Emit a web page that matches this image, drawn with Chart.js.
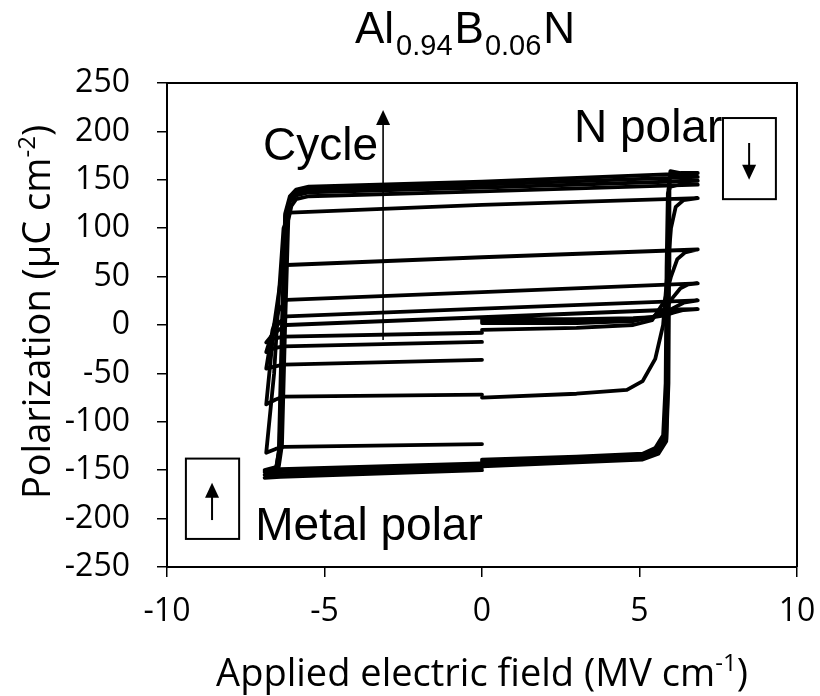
<!DOCTYPE html>
<html lang="en">
<head>
    <meta charset="UTF-8">
    <title>Al0.94B0.06N polarization loops</title>
    <script src="https://cdn.jsdelivr.net/npm/chart.js"></script>
    <style>
        body { margin: 0; background: #fff; }
    </style>
</head>
<body>

    <canvas id="loopChart" width="820" height="696"></canvas>

    <script>
        // axis ticks
        const xTicks = [-10, -5, 0, 5, 10];
        const yTicks = [-250, -200, -150, -100, -50, 0, 50, 100, 150, 200, 250];

        // P-E loops, [field MV/cm, polarization uC/cm2]
        // each one: 0 -> +max -> -max -> 0
        const cycle1 = [[0,6],[3,6],[4.8,7],[5.4,8],[5.8,10],[6.1,13],[6.4,15.5],[6.85,16.5],[6.2,16],[0,8],[-6.2,0],[-6.45,-5],[-6.7,-12],[-6.85,-18],[-6.6,-14],[-6.3,-12],[0,-8]];
        const cycle2 = [[0,4],[3,4],[4.8,6],[5.4,8],[5.8,12],[6.1,18],[6.4,23],[6.85,25.5],[0,17],[-6.2,9],[-6.45,2],[-6.7,-12],[-6.85,-28],[-6.6,-24],[-6.3,-22],[0,-17.5]];
        const cycle3 = [[0,2],[3,2],[4.8,4],[5.4,8],[5.8,16],[6.05,28],[6.3,38],[6.55,42],[6.85,43],[0,34],[-6.2,26],[-6.45,15],[-6.65,-5],[-6.85,-45],[-6.6,-43],[-6.3,-41],[0,-36]];
        const cycle4 = [[0,-5],[3,-3],[4.8,0],[5.4,5],[5.8,25],[6.0,50],[6.2,68],[6.45,75],[6.85,78],[0,70],[-6.2,62],[-6.4,45],[-6.6,0],[-6.85,-82],[-6.55,-77],[-6.3,-74],[0,-72]];
        const cycle5 = [[0,-75],[3,-71],[4.6,-67],[5.1,-58],[5.5,-35],[5.75,0],[5.9,60],[6.0,100],[6.15,122],[6.4,129],[6.85,131],[0,124],[-6.1,116],[-6.3,100],[-6.45,30],[-6.6,-50],[-6.85,-132],[-6.55,-128],[-6.3,-126],[0,-123]];
        const cycle6 = [[0,-146],[3,-142],[5.1,-139],[5.6,-133],[5.85,-120],[5.92,-60],[5.94,60],[5.95,150],[5.98,159],[6.3,157],[6.85,157],[0,148],[-5.5,143],[-5.9,140],[-6.1,133],[-6.25,115],[-6.35,0],[-6.45,-130],[-6.55,-152],[-6.9,-158],[-6.4,-157],[0,-150]];
        const cycle7 = [[0,-143],[3,-140],[5.1,-137],[5.6,-131],[5.85,-118],[5.9,-60],[5.92,60],[5.93,145],[5.98,153],[6.3,153],[6.85,153],[0,145],[-5.5,140],[-5.9,137],[-6.1,130],[-6.25,112],[-6.33,0],[-6.43,-128],[-6.55,-150],[-6.9,-155],[-6.4,-154],[0,-147]];
        const cycle8 = [[0,-141],[3,-138],[5.1,-135],[5.55,-129],[5.8,-116],[5.87,-60],[5.9,60],[5.92,140],[5.98,148],[6.3,149],[6.85,149],[0,142],[-5.5,137],[-5.9,134],[-6.1,127],[-6.2,110],[-6.3,0],[-6.4,-126],[-6.5,-148],[-6.9,-152],[-6.4,-151],[0,-145]];
        const cycle9 = [[0,-139],[3,-136],[5.1,-133],[5.5,-127],[5.75,-114],[5.83,-60],[5.86,60],[5.9,136],[5.98,143],[6.3,145],[6.85,145],[0,138],[-5.5,133],[-5.9,130],[-6.05,123],[-6.15,108],[-6.25,0],[-6.35,-124],[-6.45,-146],[-6.9,-150],[-6.4,-149],[0,-143]];

        const cycles = [cycle1, cycle2, cycle3, cycle4, cycle5, cycle6, cycle7, cycle8, cycle9];

        const tickFont = { family: 'Open Sans', size: 32 };

        // draws text pieces in a row (for sub/superscripts), returns end x
        function richText(ctx, parts, x, y) {
            parts.forEach(p => {
                ctx.font = p.size + 'px ' + p.family;
                ctx.fillText(p.text, x, y + (p.dy || 0));
                x += ctx.measureText(p.text).width + (p.gap || 0);
            });
            return x;
        }
        function richWidth(ctx, parts) {
            let w = 0;
            parts.forEach(p => {
                ctx.font = p.size + 'px ' + p.family;
                w += ctx.measureText(p.text).width + (p.gap || 0);
            });
            return w;
        }

        function arrow(ctx, x, y1, y2) {
            // y2 is the tip
            const dir = y2 < y1 ? 1 : -1;
            ctx.beginPath();
            ctx.moveTo(x, y1);
            ctx.lineTo(x, y2 + dir * 12);
            ctx.stroke();
            ctx.beginPath();
            ctx.moveTo(x, y2);
            ctx.lineTo(x - 7, y2 + dir * 15);
            ctx.lineTo(x + 7, y2 + dir * 15);
            ctx.closePath();
            ctx.fill();
        }

        const decor = {
            id: 'decor',
            afterDraw(chart) {
                const ctx = chart.ctx;
                const a = chart.chartArea;
                const sx = chart.scales.x, sy = chart.scales.y;
                const px = v => sx.getPixelForValue(v);
                const py = v => sy.getPixelForValue(v);
                ctx.save();
                ctx.fillStyle = '#000';
                ctx.strokeStyle = '#000';

                // frame top/right
                ctx.lineWidth = 2;
                ctx.beginPath();
                ctx.moveTo(a.left, a.top);
                ctx.lineTo(a.right, a.top);
                ctx.lineTo(a.right, a.bottom);
                ctx.stroke();

                // title
                ctx.textBaseline = 'alphabetic';
                ctx.textAlign = 'left';
                const arial = 'Liberation Sans, Arial, sans-serif';
                const title = [
                    { text: 'Al', size: 44, family: arial, gap: 2 },
                    { text: '0.94', size: 29, family: arial, dy: 12, gap: 2 },
                    { text: 'B', size: 44, family: arial, gap: 1 },
                    { text: '0.06', size: 29, family: arial, dy: 12, gap: 2 },
                    { text: 'N', size: 44, family: arial }
                ];
                richText(ctx, title, 355, 43);

                // annotations
                ctx.font = '46px ' + arial;
                ctx.fillText('Cycle', px(-6.95), py(170.5));
                ctx.fillText('N polar', px(2.92), py(189));
                ctx.fillText('Metal polar', px(-7.2), py(-222));

                ctx.lineWidth = 1.6;
                arrow(ctx, px(-3.14), py(-15.5), py(222));

                ctx.lineWidth = 2;
                ctx.strokeRect(px(7.65), py(213.8), px(9.33) - px(7.65), py(130) - py(213.8));
                arrow(ctx, px(8.48), py(188), py(150));

                ctx.strokeRect(px(-9.4), py(-138), px(-7.71) - px(-9.4), py(-221) - py(-138));
                arrow(ctx, px(-8.57), py(-201.5), py(-163));

                // axis titles
                const os = 'Open Sans, sans-serif';
                const xt = [
                    { text: 'Applied electric field (MV cm', size: 38, family: os },
                    { text: '-1', size: 24, family: os, dy: -15 },
                    { text: ')', size: 38, family: os }
                ];
                const xw = richWidth(ctx, xt);
                richText(ctx, xt, (a.left + a.right) / 2 - xw / 2, 686);

                const yt = [
                    { text: 'Polarization (\u00b5C cm', size: 38, family: os },
                    { text: '-2', size: 24, family: os, dy: -15 },
                    { text: ')', size: 38, family: os }
                ];
                const yw = richWidth(ctx, yt);
                ctx.translate(50, 312);
                ctx.rotate(-Math.PI / 2);
                richText(ctx, yt, -yw / 2, 0);

                ctx.restore();
            }
        };

        const ctx = document.getElementById('loopChart').getContext('2d');
        new Chart(ctx, {
            type: 'scatter',
            data: {
                datasets: cycles.map((c, i) => ({
                    label: 'cycle ' + (i + 1),
                    data: c.map(([x, y]) => ({ x: x, y: y })),
                    showLine: true,
                    borderColor: '#000',
                    borderWidth: 3.8,
                    borderJoinStyle: 'round',
                    borderCapStyle: 'round',
                    pointRadius: 0,
                    tension: 0,
                    fill: false
                }))
            },
            options: {
                responsive: false,
                animation: false,
                layout: { padding: { top: 83, right: 23, left: 0, bottom: 0 } },
                plugins: {
                    legend: { display: false },
                    tooltip: { enabled: false }
                },
                scales: {
                    x: {
                        type: 'linear',
                        min: -10, max: 10,
                        afterBuildTicks: s => { s.ticks = xTicks.map(v => ({ value: v })); },
                        afterFit: s => { s.height = 129; s.paddingLeft = 0; s.paddingRight = 0; },
                        ticks: { font: tickFont, color: '#000', padding: 16, maxRotation: 0 },
                        grid: { drawOnChartArea: false, drawTicks: true, tickLength: 10, color: '#000', lineWidth: 1.5 },
                        border: { display: true, color: '#000', width: 2 }
                    },
                    y: {
                        type: 'linear',
                        min: -250, max: 250,
                        afterBuildTicks: s => { s.ticks = yTicks.map(v => ({ value: v })); },
                        afterFit: s => { s.width = 167; s.paddingTop = 0; s.paddingBottom = 0; },
                        ticks: { font: tickFont, color: '#000', padding: 27 },
                        grid: { drawOnChartArea: false, drawTicks: true, tickLength: 10, color: '#000', lineWidth: 1.5 },
                        border: { display: true, color: '#000', width: 2 }
                    }
                }
            },
            plugins: [decor]
        });
    </script>
</body>
</html>
